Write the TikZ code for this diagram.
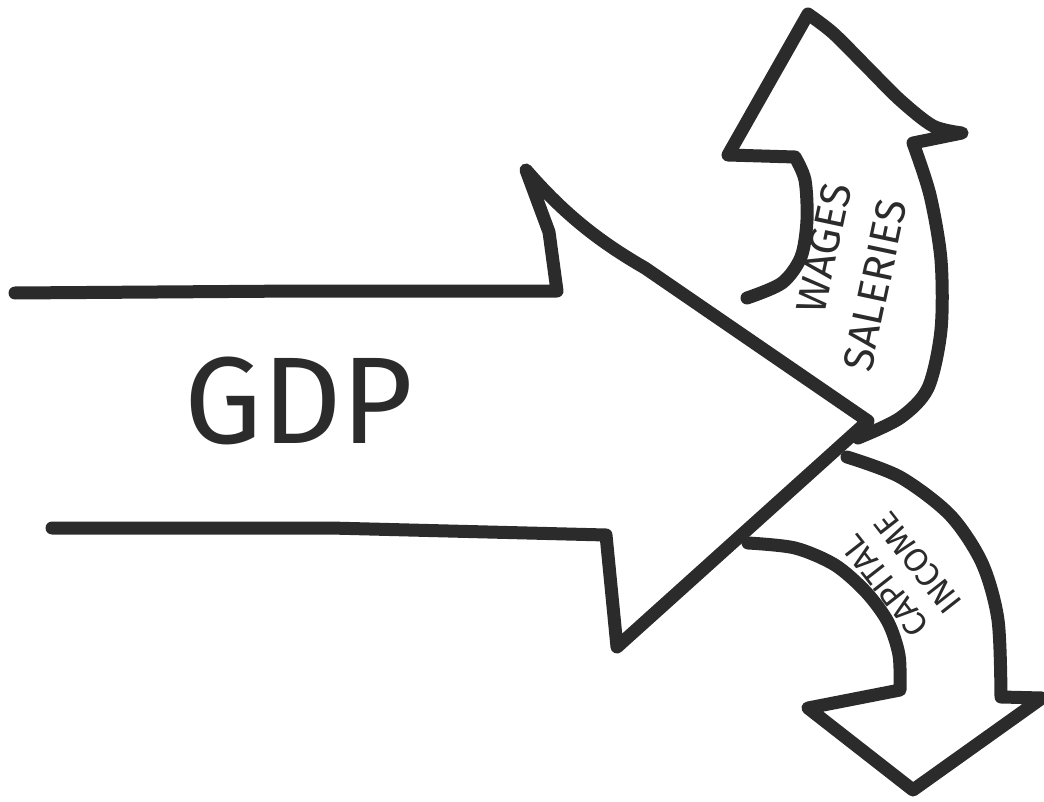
\documentclass[tikz,border=0pt]{standalone}
\usepackage{fontspec}
\setmainfont{Fira Sans}
\newlength{\du}
\setlength{\du}{0.5669pt}
\definecolor{dialinecolor}{rgb}{0.170000, 0.170000, 0.170000}
\tikzset{
  sketch/.style={draw=dialinecolor, line width=13\du, line cap=round, line join=round},
  handtext/.style={text=dialinecolor, inner sep=0pt}
}
\begin{document}
\begin{tikzpicture}
\pgftransformxscale{1.000000}
\pgftransformyscale{-1.000000}
\useasboundingbox (0\du,0\du) rectangle (1044\du,802\du);
% GDP arrow
\draw[sketch] (15\du,293\du)--(300\du,291\du)--(557\du,291\du)--(549\du,232\du)--(526\du,170\du) .. controls (565\du,215\du) and (600\du,242\du) .. (645\du,268\du)--(868\du,421\du)--(617\du,647\du)--(606\du,535\du)--(330\du,528\du)--(52\du,528\du);
\node[handtext] (gdp) at (299\du,401\du) {\fontsize{70}{70}\selectfont GDP};
% wages arrow
\draw[sketch] plot[smooth] coordinates {(858\du,438\du) (900\du,418\du) (928\du,388\du) (941\du,330\du) (941\du,260\du) (930\du,195\du) (913\du,143\du)}--(962\du,133\du)
  -- plot[smooth] coordinates {(962\du,133\du) (933\du,126\du) (900\du,100\du) (867\du,67\du) (833\du,33\du) (808\du,14\du)}
  --(728\du,155\du)--(795\du,157\du)
  -- plot[smooth] coordinates {(795\du,157\du) (805\du,180\du) (807\du,220\du) (801\du,257\du) (782\du,283\du) (747\du,298\du)};
\node[handtext, rotate=78] (wages) at (824\du,248\du) {\fontsize{24}{24}\selectfont WAGES};
\node[handtext, rotate=78] (saleries) at (875\du,285\du) {\fontsize{24}{24}\selectfont SALERIES};
% capital income arrow
\draw[sketch] plot[smooth] coordinates {(847\du,457\du) (900\du,477\du) (950\du,515\du) (982\du,563\du) (998\du,620\du) (1001\du,697\du)}--(1042\du,698\du)--(913\du,790\du)--(808\du,708\du)--(900\du,690\du)
  -- plot[smooth] coordinates {(900\du,690\du) (899\du,655\du) (888\du,622\du) (866\du,592\du) (835\du,565\du) (795\du,548\du) (748\du,543\du)};
\node[handtext, rotate=128] (capital) at (885\du,586\du) {\fontsize{19}{19}\selectfont CAPITAL};
\node[handtext, rotate=128] (income) at (918\du,563\du) {\fontsize{19}{19}\selectfont INCOME};
\end{tikzpicture}
\end{document}
